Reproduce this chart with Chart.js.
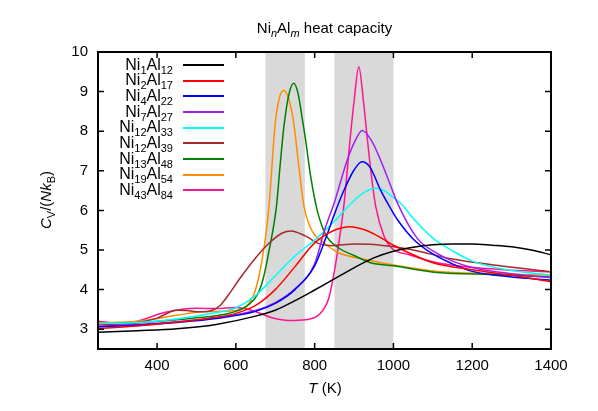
<!DOCTYPE html>
<html>
<head>
<meta charset="utf-8">
<script src="https://cdn.jsdelivr.net/npm/chart.js@4.4.1/dist/chart.umd.min.js"></script>
<style>
    body { margin: 0; background: #fff; }
    #wrap { position: relative; width: 598px; height: 411px; font-family: 'Liberation Sans', Arial, sans-serif; color: #000; }
    #grafica { position: absolute; left: 0; top: 0; }
    sub { font-size: 11px; vertical-align: -4px; line-height: 0; }
    .txt { position: absolute; white-space: nowrap; }
    #titulo { left: 98px; width: 453px; top: 19px; text-align: center; font-size: 15px; line-height: 18px; }
    #ejeY { left: 46px; top: 200px; font-size: 15px; line-height: 18px; transform: translate(-50%, -50%) rotate(-90deg); }
    #ejeX { left: 325px; top: 388px; font-size: 15px; line-height: 18px; transform: translate(-50%, -50%); }
    .etiqueta { position: absolute; right: 425px; font-size: 16px; line-height: 16px; white-space: nowrap; text-align: right; }
    .muestra { position: absolute; left: 183px; width: 41px; height: 2px; }
</style>
</head>
<body>
<div id="wrap">
    <canvas id="grafica" width="598" height="411"></canvas>
    <div id="titulo" class="txt">Ni<sub><i>n</i></sub>Al<sub><i>m</i></sub> heat capacity</div>
    <div id="ejeY" class="txt"><i>C</i><sub>V</sub>/(<i>Nk</i><sub>B</sub>)</div>
    <div id="ejeX" class="txt"><i>T</i> (K)</div>
    <div id="leyenda"></div>
</div>
<script>
// CLUSTERS (Ni_n Al_m)
const niCounts = [1, 2, 4, 7, 12, 12, 13, 19, 43];
const alCounts = [12, 17, 22, 27, 33, 39, 48, 54, 84];
const lineColors = ['#000000', '#ff0000', '#0000ff', '#a020f0', '#00ffff', '#a52a2a', '#008000', '#ff8c00', '#ff1493'];

// TEMPERATURES (K) AND HEAT CAPACITY Cv/(N kB)
const t1_12 = [250, 350, 450, 550, 650, 700, 750, 800, 850, 900, 950, 1000, 1050, 1100, 1150, 1200, 1250, 1300, 1350, 1400];
const cv1_12 = [2.92, 2.96, 3.01, 3.12, 3.33, 3.48, 3.72, 3.99, 4.27, 4.55, 4.8, 4.97, 5.07, 5.13, 5.15, 5.15, 5.12, 5.08, 5.0, 4.88];

const t2_17 = [250, 350, 450, 550, 600, 650, 700, 750, 800, 850, 890, 930, 970, 1000, 1050, 1100, 1200, 1300, 1400];
const cv2_17 = [3.02, 3.08, 3.18, 3.3, 3.4, 3.6, 4.0, 4.58, 5.18, 5.5, 5.59, 5.5, 5.3, 5.12, 4.88, 4.68, 4.5, 4.36, 4.2];

const t4_22 = [250, 350, 450, 550, 650, 700, 750, 800, 830, 850, 875, 900, 920, 940, 967, 990, 1010, 1050, 1100, 1150, 1200, 1300, 1400];
const cv4_22 = [3.06, 3.1, 3.17, 3.27, 3.45, 3.65, 4.0, 4.6, 5.35, 5.9, 6.52, 7.02, 7.23, 7.1, 6.52, 6.1, 5.77, 5.28, 4.9, 4.65, 4.46, 4.32, 4.24];

const t7_27 = [250, 350, 450, 550, 650, 700, 750, 800, 825, 850, 883, 900, 921, 945, 967, 990, 1010, 1060, 1110, 1150, 1200, 1300, 1400];
const cv7_27 = [3.08, 3.12, 3.19, 3.29, 3.47, 3.67, 4.02, 4.65, 5.5, 6.2, 7.28, 7.7, 8.02, 7.75, 7.28, 6.7, 6.19, 5.3, 4.92, 4.72, 4.56, 4.4, 4.3];

const t12_33 = [250, 350, 450, 550, 600, 650, 700, 750, 800, 850, 900, 930, 955, 980, 1000, 1020, 1050, 1100, 1150, 1200, 1300, 1400];
const cv12_33 = [3.14, 3.17, 3.26, 3.42, 3.54, 3.85, 4.35, 4.85, 5.25, 5.72, 6.25, 6.48, 6.56, 6.48, 6.32, 6.17, 5.8, 5.3, 4.98, 4.72, 4.48, 4.37];

const t12_39 = [250, 300, 350, 400, 450, 475, 510, 540, 560, 580, 610, 650, 684, 718, 740, 777, 811, 845, 900, 950, 1000, 1050, 1150, 1280, 1400];
const cv12_39 = [3.12, 3.13, 3.16, 3.28, 3.48, 3.47, 3.44, 3.48, 3.6, 3.85, 4.28, 4.8, 5.17, 5.43, 5.48, 5.35, 5.16, 5.11, 5.15, 5.14, 5.08, 5.0, 4.77, 4.59, 4.45];

const t13_48 = [250, 350, 450, 500, 550, 600, 630, 655, 670, 684, 703, 712, 722, 735, 747, 758, 768, 777, 790, 806, 828, 861, 900, 942, 1000, 1111, 1250, 1400];
const cv13_48 = [3.13, 3.16, 3.24, 3.29, 3.34, 3.45, 3.6, 3.88, 4.3, 4.97, 6.1, 7.1, 8.12, 8.95, 9.21, 8.95, 8.35, 7.78, 6.85, 6.02, 5.39, 5.05, 4.86, 4.68, 4.6, 4.43, 4.38, 4.32];

const t19_54 = [250, 350, 450, 500, 550, 600, 629, 646, 660, 667, 675, 684, 700, 712, 722, 733, 747, 760, 773, 794, 819, 861, 929, 1000, 1111, 1250, 1400];
const cv19_54 = [3.16, 3.2, 3.35, 3.43, 3.45, 3.47, 3.6, 3.88, 4.4, 4.79, 5.3, 6.1, 8.2, 8.9, 9.03, 8.85, 8.2, 7.1, 6.1, 5.47, 5.22, 4.93, 4.76, 4.62, 4.46, 4.4, 4.36];

const t43_84 = [250, 300, 350, 418, 500, 550, 600, 640, 692, 734, 777, 811, 836, 853, 866, 874, 891, 900, 912, 924, 934, 945, 955, 976, 995, 1040, 1111, 1281, 1400];
const cv43_84 = [3.2, 3.16, 3.2, 3.42, 3.53, 3.52, 3.55, 3.48, 3.29, 3.22, 3.24, 3.37, 3.79, 4.63, 5.5, 6.1, 7.9, 8.75, 9.63, 8.75, 7.78, 6.8, 6.1, 5.35, 5.05, 4.88, 4.68, 4.5, 4.45];

const allTemps = [t1_12, t2_17, t4_22, t7_27, t12_33, t12_39, t13_48, t19_54, t43_84];
const allCv = [cv1_12, cv2_17, cv4_22, cv7_27, cv12_33, cv12_39, cv13_48, cv19_54, cv43_84];

// SHADED TEMPERATURE RANGES AND TICKS
const shadedBands = [[675, 775], [850, 1000]];
const xTickValues = [400, 600, 800, 1000, 1200, 1400];
const yTickValues = [3, 4, 5, 6, 7, 8, 9, 10];

const fuente = "'Liberation Sans', Arial, sans-serif";

// LEGEND (HTML, for the subscripts)
const leyenda = document.getElementById('leyenda');
niCounts.forEach((n, i) => {
    const yFila = 65 + i * 15.67;
    leyenda.innerHTML += `<div class="etiqueta" style="top:${yFila - 8.5}px">Ni<sub>${n}</sub>Al<sub>${alCounts[i]}</sub></div>
        <div class="muestra" style="top:${yFila - 1}px;background:${lineColors[i]}"></div>`;
});

// BANDS, INWARD TICKS AND FRAME
const marcoPlugin = {
    id: 'marco',
    beforeDatasetsDraw(chart) {
        const { ctx, chartArea: a, scales: { x } } = chart;
        ctx.save();
        ctx.fillStyle = '#d9d9d9';
        shadedBands.forEach(b => {
            const x0 = x.getPixelForValue(b[0]);
            const x1 = x.getPixelForValue(b[1]);
            ctx.fillRect(x0, a.top, x1 - x0, a.bottom - a.top);
        });
        ctx.restore();
    },
    afterDatasetsDraw(chart) {
        const { ctx, chartArea: a, scales: { x, y } } = chart;
        ctx.save();
        ctx.strokeStyle = '#000';
        ctx.lineWidth = 1.5;
        ctx.beginPath();
        x.ticks.forEach(t => {
            const px = x.getPixelForValue(t.value);
            ctx.moveTo(px, a.bottom); ctx.lineTo(px, a.bottom - 6);
            ctx.moveTo(px, a.top); ctx.lineTo(px, a.top + 6);
        });
        y.ticks.forEach(t => {
            const py = y.getPixelForValue(t.value);
            ctx.moveTo(a.left, py); ctx.lineTo(a.left + 6, py);
            ctx.moveTo(a.right, py); ctx.lineTo(a.right - 6, py);
        });
        ctx.stroke();
        ctx.lineWidth = 2;
        ctx.strokeRect(a.left, a.top, a.right - a.left, a.bottom - a.top);
        ctx.restore();
    }
};

const datasets = allTemps.map((temps, i) => ({
    label: `Ni${niCounts[i]}Al${alCounts[i]}`,
    data: temps.map((t, k) => ({ x: t, y: allCv[i][k] })),
    borderColor: lineColors[i],
    borderWidth: 1.5,
    pointRadius: 0,
    fill: false,
    cubicInterpolationMode: 'monotone'
}));

new Chart(document.getElementById('grafica').getContext('2d'), {
    type: 'line',
    data: { datasets: datasets },
    options: {
        responsive: false,
        animation: false,
        devicePixelRatio: 1,
        layout: { padding: { left: 0, top: 52, right: 47, bottom: 0 } },
        plugins: { legend: { display: false }, tooltip: { enabled: false } },
        scales: {
            x: {
                type: 'linear', min: 250, max: 1400,
                afterBuildTicks: s => { s.ticks = xTickValues.map(v => ({ value: v })); },
                afterFit: s => { s.height = 62; },
                grid: { display: false, drawTicks: false },
                border: { display: false },
                ticks: { color: '#000', font: { family: fuente, size: 15 }, padding: 8, maxRotation: 0, callback: v => String(v) }
            },
            y: {
                type: 'linear', min: 2.5, max: 10,
                afterBuildTicks: s => { s.ticks = yTickValues.map(v => ({ value: v })); },
                afterFit: s => { s.width = 98; },
                grid: { display: false, drawTicks: false },
                border: { display: false },
                ticks: { color: '#000', font: { family: fuente, size: 15 }, padding: 10, callback: v => String(v) }
            }
        }
    },
    plugins: [marcoPlugin]
});
</script>
</body>
</html>
